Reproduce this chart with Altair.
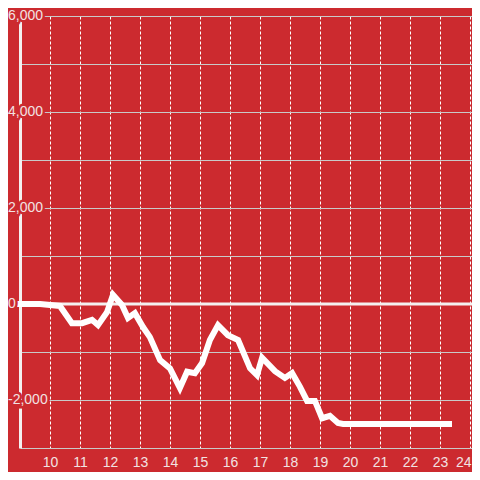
import altair as alt
import pandas as pd

# data
hours = [9, 9.67, 10.33, 10.73, 11.07, 11.4, 11.6, 11.9, 12.1, 12.4, 12.6, 12.83,
         13.1, 13.33, 13.67, 14.0, 14.33, 14.57, 14.83, 15.07, 15.33, 15.6, 15.93,
         16.27, 16.67, 16.9, 17.07, 17.5, 17.83, 18.07, 18.33, 18.57, 18.83, 19.07,
         19.33, 19.6, 19.77, 23.3]
values = [0, 0, -40, -400, -400, -330, -440, -170, 190, -20, -290, -190,
          -480, -690, -1170, -1340, -1750, -1410, -1440, -1230, -750, -440, -650,
          -750, -1340, -1480, -1120, -1400, -1540, -1440, -1720, -2020, -2020, -2380,
          -2330, -2480, -2500, -2500]
x_ticks = list(range(10, 25))
y_grid = list(range(-3000, 7000, 1000))
y_label_values = [-2000, 0, 2000, 4000, 6000]
y_label_texts = ["-2,000", "0", "2,000", "4,000", "6,000"]

BG = "#cc2a2f"
LABEL = "#f2e2e2"
FONT = "Liberation Sans"

df = pd.DataFrame({"x": hours, "v": values})
labels_df = pd.DataFrame({"v": y_label_values, "t": y_label_texts})
zero_df = pd.DataFrame({"v": [0]})

xscale = alt.Scale(domain=[9, 24.0667], nice=False, zero=False)
yscale = alt.Scale(domain=[-3000, 6000], nice=False, zero=False)

line = alt.Chart(df).mark_line(
    color="white", strokeWidth=6, strokeCap="square", strokeJoin="miter"
).encode(
    x=alt.X("x:Q", scale=xscale, axis=alt.Axis(
        values=x_ticks, grid=True, gridColor="white", gridDash=[3, 2], gridWidth=1,
        domain=False, ticks=False, labelFontSize=14, labelColor=LABEL, labelFont=FONT,
        labelPadding=7, title=None, format="d", labelBound=False,
        labelAlign={"condition": {"test": "datum.value == 24", "value": "right"},
                    "value": "center"},
        labelOffset={"condition": {"test": "datum.value == 24", "value": 1},
                     "value": 0})),
    y=alt.Y("v:Q", scale=yscale, axis=alt.Axis(
        values=y_grid, grid=True, gridColor="#c9c9c9", gridWidth=1,
        labels=False, ticks=False, domain=True, domainColor="#f4f0f0", domainWidth=3,
        title=None)),
)

zero = alt.Chart(zero_df).mark_rule(color="#f4f0f0", strokeWidth=3).encode(
    y=alt.Y("v:Q", scale=yscale)
)

lab_bg = alt.Chart(labels_df).mark_text(
    align="left", baseline="middle", fontSize=14, font=FONT,
    color=BG, stroke=BG, strokeWidth=5
).encode(x=alt.value(-12), y=alt.Y("v:Q", scale=yscale), text="t:N")

lab = alt.Chart(labels_df).mark_text(
    align="left", baseline="middle", fontSize=14, font=FONT, color=LABEL
).encode(x=alt.value(-12), y=alt.Y("v:Q", scale=yscale), text="t:N")

chart = alt.layer(zero, line, lab_bg, lab).properties(
    width=452, height=432,
    padding={"left": 12, "top": 8, "right": 0, "bottom": 24},
    autosize=alt.AutoSizeParams(type="none"),
    background=BG,
).configure_view(stroke=None, fill=BG)

chart.save("out.html", embed_options={"renderer": "svg", "actions": False})
